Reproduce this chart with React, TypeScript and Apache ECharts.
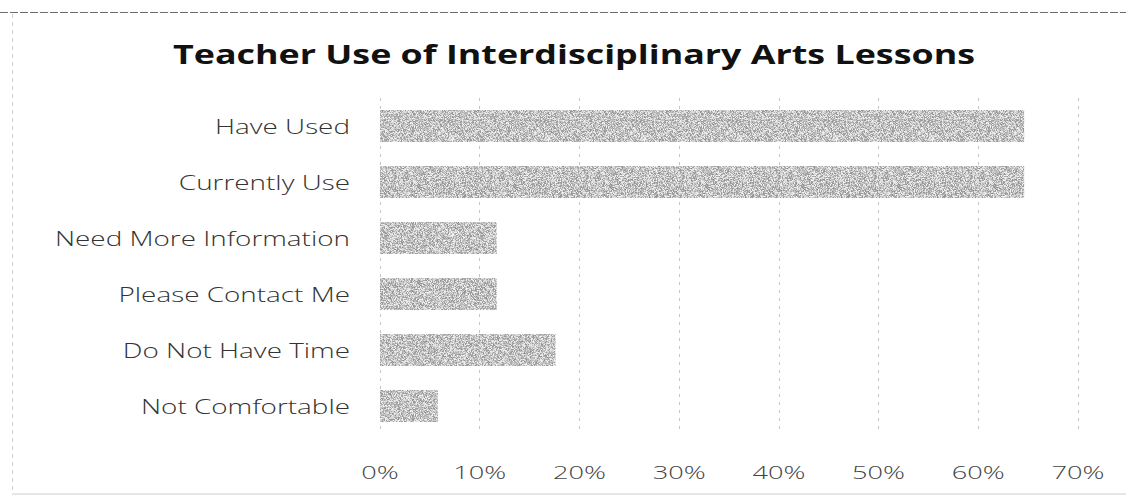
import React, { useEffect, useRef } from "react";
import * as echarts from "echarts";

const titleText = "Teacher Use of Interdisciplinary Arts Lessons";
const categories = [
  "Have Used",
  "Currently Use",
  "Need More Information",
  "Please Contact Me",
  "Do Not Have Time",
  "Not Comfortable",
];
const values = [0.646, 0.646, 0.117, 0.117, 0.176, 0.058];
const axisMin = 0;
const axisMax = 0.7;
const axisStep = 0.1;
const tickValues = [0, 0.1, 0.2, 0.3, 0.4, 0.5, 0.6, 0.7];

function measure(text: string, font: string): number {
  const c = document.createElement("canvas");
  const ctx = c.getContext("2d")!;
  ctx.font = font;
  return ctx.measureText(text).width;
}

function makeTexture(): HTMLCanvasElement {
  const size = 96;
  const c = document.createElement("canvas");
  c.width = size;
  c.height = size;
  const ctx = c.getContext("2d")!;
  const img = ctx.createImageData(size, size);
  for (let y = 0; y < size; y++) {
    for (let x = 0; x < size; x++) {
      let h = (x * 374761393 + y * 668265263) | 0;
      h = Math.imul(h ^ (h >>> 13), 1274126177);
      h = (h ^ (h >>> 16)) >>> 0;
      const t = (h % 1000) / 1000;
      const g = Math.round(145 + t * 100);
      const i = (y * size + x) * 4;
      img.data[i] = g;
      img.data[i + 1] = g;
      img.data[i + 2] = g;
      img.data[i + 3] = 255;
    }
  }
  ctx.putImageData(img, 0, 0);
  return c;
}

export default function App() {
  const ref = useRef<HTMLDivElement>(null);
  useEffect(() => {
    if (!ref.current) return;
    const chart = echarts.init(ref.current, undefined, { renderer: "svg" });
    const texture = makeTexture();

    const titleFont = "bold 27px 'Open Sans'";
    const catFont = "300 20px 'Open Sans'";
    const tickFont = "300 18px 'Open Sans'";
    const titleScale = 802 / measure(titleText, titleFont);
    const catScale = 295 / measure("Need More Information", catFont);
    const tickScale = 53 / measure("40%", tickFont);

    chart.setOption({
      animation: false,
      backgroundColor: "#ffffff",
      grid: { left: 380, right: 48, top: 98, bottom: 68, containLabel: false },
      xAxis: {
        type: "value",
        min: axisMin,
        max: axisMax,
        interval: axisStep,
        axisLine: { show: false },
        axisTick: { show: false },
        splitLine: {
          show: true,
          lineStyle: { color: "#c4c4c4", type: [3, 5], width: 1 },
        },
        axisLabel: { show: false },
      },
      yAxis: {
        type: "category",
        data: categories,
        inverse: true,
        axisLine: { show: false },
        axisTick: { show: false },
        splitLine: { show: false },
        axisLabel: { show: false },
      },
      series: [
        {
          type: "bar",
          data: values,
          barCategoryGap: "43%",
          itemStyle: { color: { image: texture, repeat: "repeat" } as any },
        },
      ],
    });

    const graphics: any[] = [
      {
        type: "line",
        shape: { x1: 0, y1: 12.5, x2: 1126, y2: 12.5 },
        style: { stroke: "#6e6e6e", lineWidth: 1, lineDash: [8, 2] },
      },
      {
        type: "line",
        shape: { x1: 12.5, y1: 14, x2: 12.5, y2: 495 },
        style: { stroke: "#cfcfcf", lineWidth: 1, lineDash: [4, 4] },
      },
      {
        type: "line",
        shape: { x1: 12, y1: 494, x2: 1126, y2: 494 },
        style: { stroke: "#e6e6e6", lineWidth: 2 },
      },
      {
        type: "text",
        x: 173,
        y: 53,
        scaleX: titleScale,
        style: {
          text: titleText,
          font: titleFont,
          fill: "#111111",
          align: "left",
          verticalAlign: "middle",
        },
      },
    ];
    categories.forEach((cat) => {
      const py = chart.convertToPixel({ yAxisIndex: 0 }, cat) as number;
      graphics.push({
        type: "text",
        x: 350,
        y: py,
        scaleX: catScale,
        style: {
          text: cat,
          font: catFont,
          fill: "#333333",
          align: "right",
          verticalAlign: "middle",
        },
      });
    });
    tickValues.forEach((v) => {
      const px = chart.convertToPixel({ xAxisIndex: 0 }, v) as number;
      graphics.push({
        type: "text",
        x: px,
        y: 472,
        scaleX: tickScale,
        style: {
          text: `${Math.round(v * 100)}%`,
          font: tickFont,
          fill: "#444444",
          align: "center",
          verticalAlign: "middle",
        },
      });
    });
    chart.setOption({ graphic: graphics });

    return () => chart.dispose();
  }, []);
  return (
    <div
      ref={ref}
      style={{ position: "fixed", left: 0, top: 0, width: 1126, height: 502, background: "#fff" }}
    />
  );
}
